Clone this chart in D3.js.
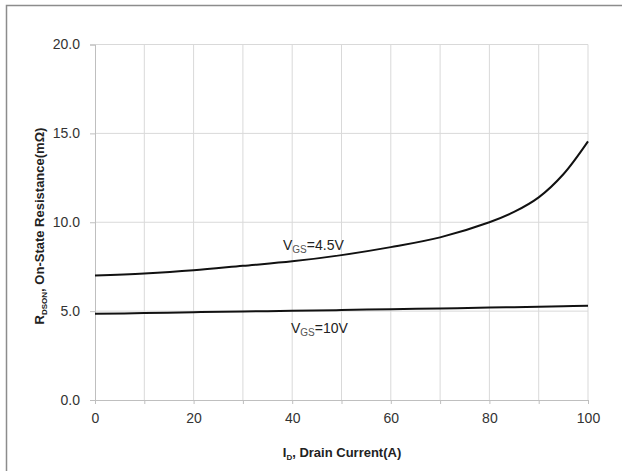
<html>
<head>
<script src="https://d3js.org/d3.v7.min.js"></script>
<style>
  body { margin: 0; background: #fff; }
  text { font-family: "Liberation Sans", Arial, sans-serif; }
</style>
</head>
<body>
<svg></svg>
<script>
// drain current (A) sample points
const currents = [0, 10, 20, 30, 40, 50, 60, 70, 80, 85, 90, 95, 100];
// on-resistance (mOhm) at VGS = 4.5V
const rds45 = [7.0, 7.12, 7.3, 7.55, 7.8, 8.15, 8.6, 9.15, 10.0, 10.58, 11.4, 12.7, 14.55];
// on-resistance (mOhm) at VGS = 10V
const rds10 = [4.85, 4.89, 4.94, 4.98, 5.02, 5.06, 5.11, 5.15, 5.2, 5.22, 5.25, 5.27, 5.3];
const xTicks = [0, 20, 40, 60, 80, 100];
const yTicks = [0, 5, 10, 15, 20];

const width = 622, height = 471;
const plotLeft = 95, plotRight = 588, plotTop = 44.5, plotBottom = 400;

const svg = d3.select("svg").attr("width", width).attr("height", height);

// outer frame
svg.append("rect")
  .attr("x", 6.5).attr("y", 5.5)
  .attr("width", 700).attr("height", 600)
  .attr("fill", "none").attr("stroke", "#8c8c8c").attr("stroke-width", 1.5);

const x = d3.scaleLinear().domain([0, 100]).range([plotLeft, plotRight]);
const y = d3.scaleLinear().domain([0, 20]).range([plotBottom, plotTop]);

// gridlines
svg.append("g").selectAll("line").data(d3.range(10, 101, 10)).join("line")
  .attr("x1", d => x(d)).attr("x2", d => x(d))
  .attr("y1", plotTop).attr("y2", plotBottom)
  .attr("stroke", "#d9d9d9").attr("stroke-width", 1);
svg.append("g").selectAll("line").data(yTicks.slice(1)).join("line")
  .attr("x1", plotLeft).attr("x2", plotRight)
  .attr("y1", d => y(d)).attr("y2", d => y(d))
  .attr("stroke", "#d9d9d9").attr("stroke-width", 1);

// axes
const yAxis = svg.append("g").attr("transform", "translate(" + plotLeft + ",0)")
  .call(d3.axisLeft(y).tickValues(yTicks).tickFormat(d3.format(".1f")).tickSize(5).tickPadding(10));
const xAxis = svg.append("g").attr("transform", "translate(0," + plotBottom + ")")
  .call(d3.axisBottom(x).tickValues(d3.range(0, 101, 10)).tickFormat(d => xTicks.includes(d) ? d : "").tickSize(4).tickPadding(9));
[yAxis, xAxis].forEach(a => {
  a.select(".domain").attr("stroke", "#bfbfbf");
  a.selectAll(".tick line").attr("stroke", "#bfbfbf");
  a.selectAll("text").attr("fill", "#333").style("font-size", "14px")
    .style("font-family", "'Liberation Sans', Arial, sans-serif");
});

// curves
const line = d3.line().curve(d3.curveCatmullRom.alpha(0.5));
svg.append("path")
  .attr("d", line(currents.map((c, i) => [x(c), y(rds45[i])])))
  .attr("fill", "none").attr("stroke", "#111").attr("stroke-width", 2);
svg.append("path")
  .attr("d", line(currents.map((c, i) => [x(c), y(rds10[i])])))
  .attr("fill", "none").attr("stroke", "#111").attr("stroke-width", 2);

// series labels
function vgsLabel(px, py, val) {
  const t = svg.append("text").attr("x", px).attr("y", py)
    .attr("fill", "#222").style("font-size", "14px");
  t.append("tspan").text("V");
  t.append("tspan").text("GS").attr("dy", 3).style("font-size", "10px").attr("fill", "#555");
  t.append("tspan").text("=" + val).attr("dy", -3);
}
vgsLabel(283, 250, "4.5V");
vgsLabel(291, 333, "10V");

// axis titles
const xt = svg.append("text").attr("x", 342).attr("y", 457)
  .attr("text-anchor", "middle").style("font-size", "13px").style("font-weight", "bold").attr("fill", "#222");
xt.append("tspan").text("I");
xt.append("tspan").text("D").attr("dy", 3).style("font-size", "8px");
xt.append("tspan").text(", Drain Current(A)").attr("dy", -3);

const yt = svg.append("text").attr("transform", "translate(44,226) rotate(-90)")
  .attr("text-anchor", "middle").style("font-size", "13px").style("font-weight", "bold").attr("fill", "#222");
yt.append("tspan").text("R");
yt.append("tspan").text("DSON").attr("dy", 3).style("font-size", "8px");
yt.append("tspan").text(", On-State Resistance(m\u03A9)").attr("dy", -3);
</script>
</body>
</html>
